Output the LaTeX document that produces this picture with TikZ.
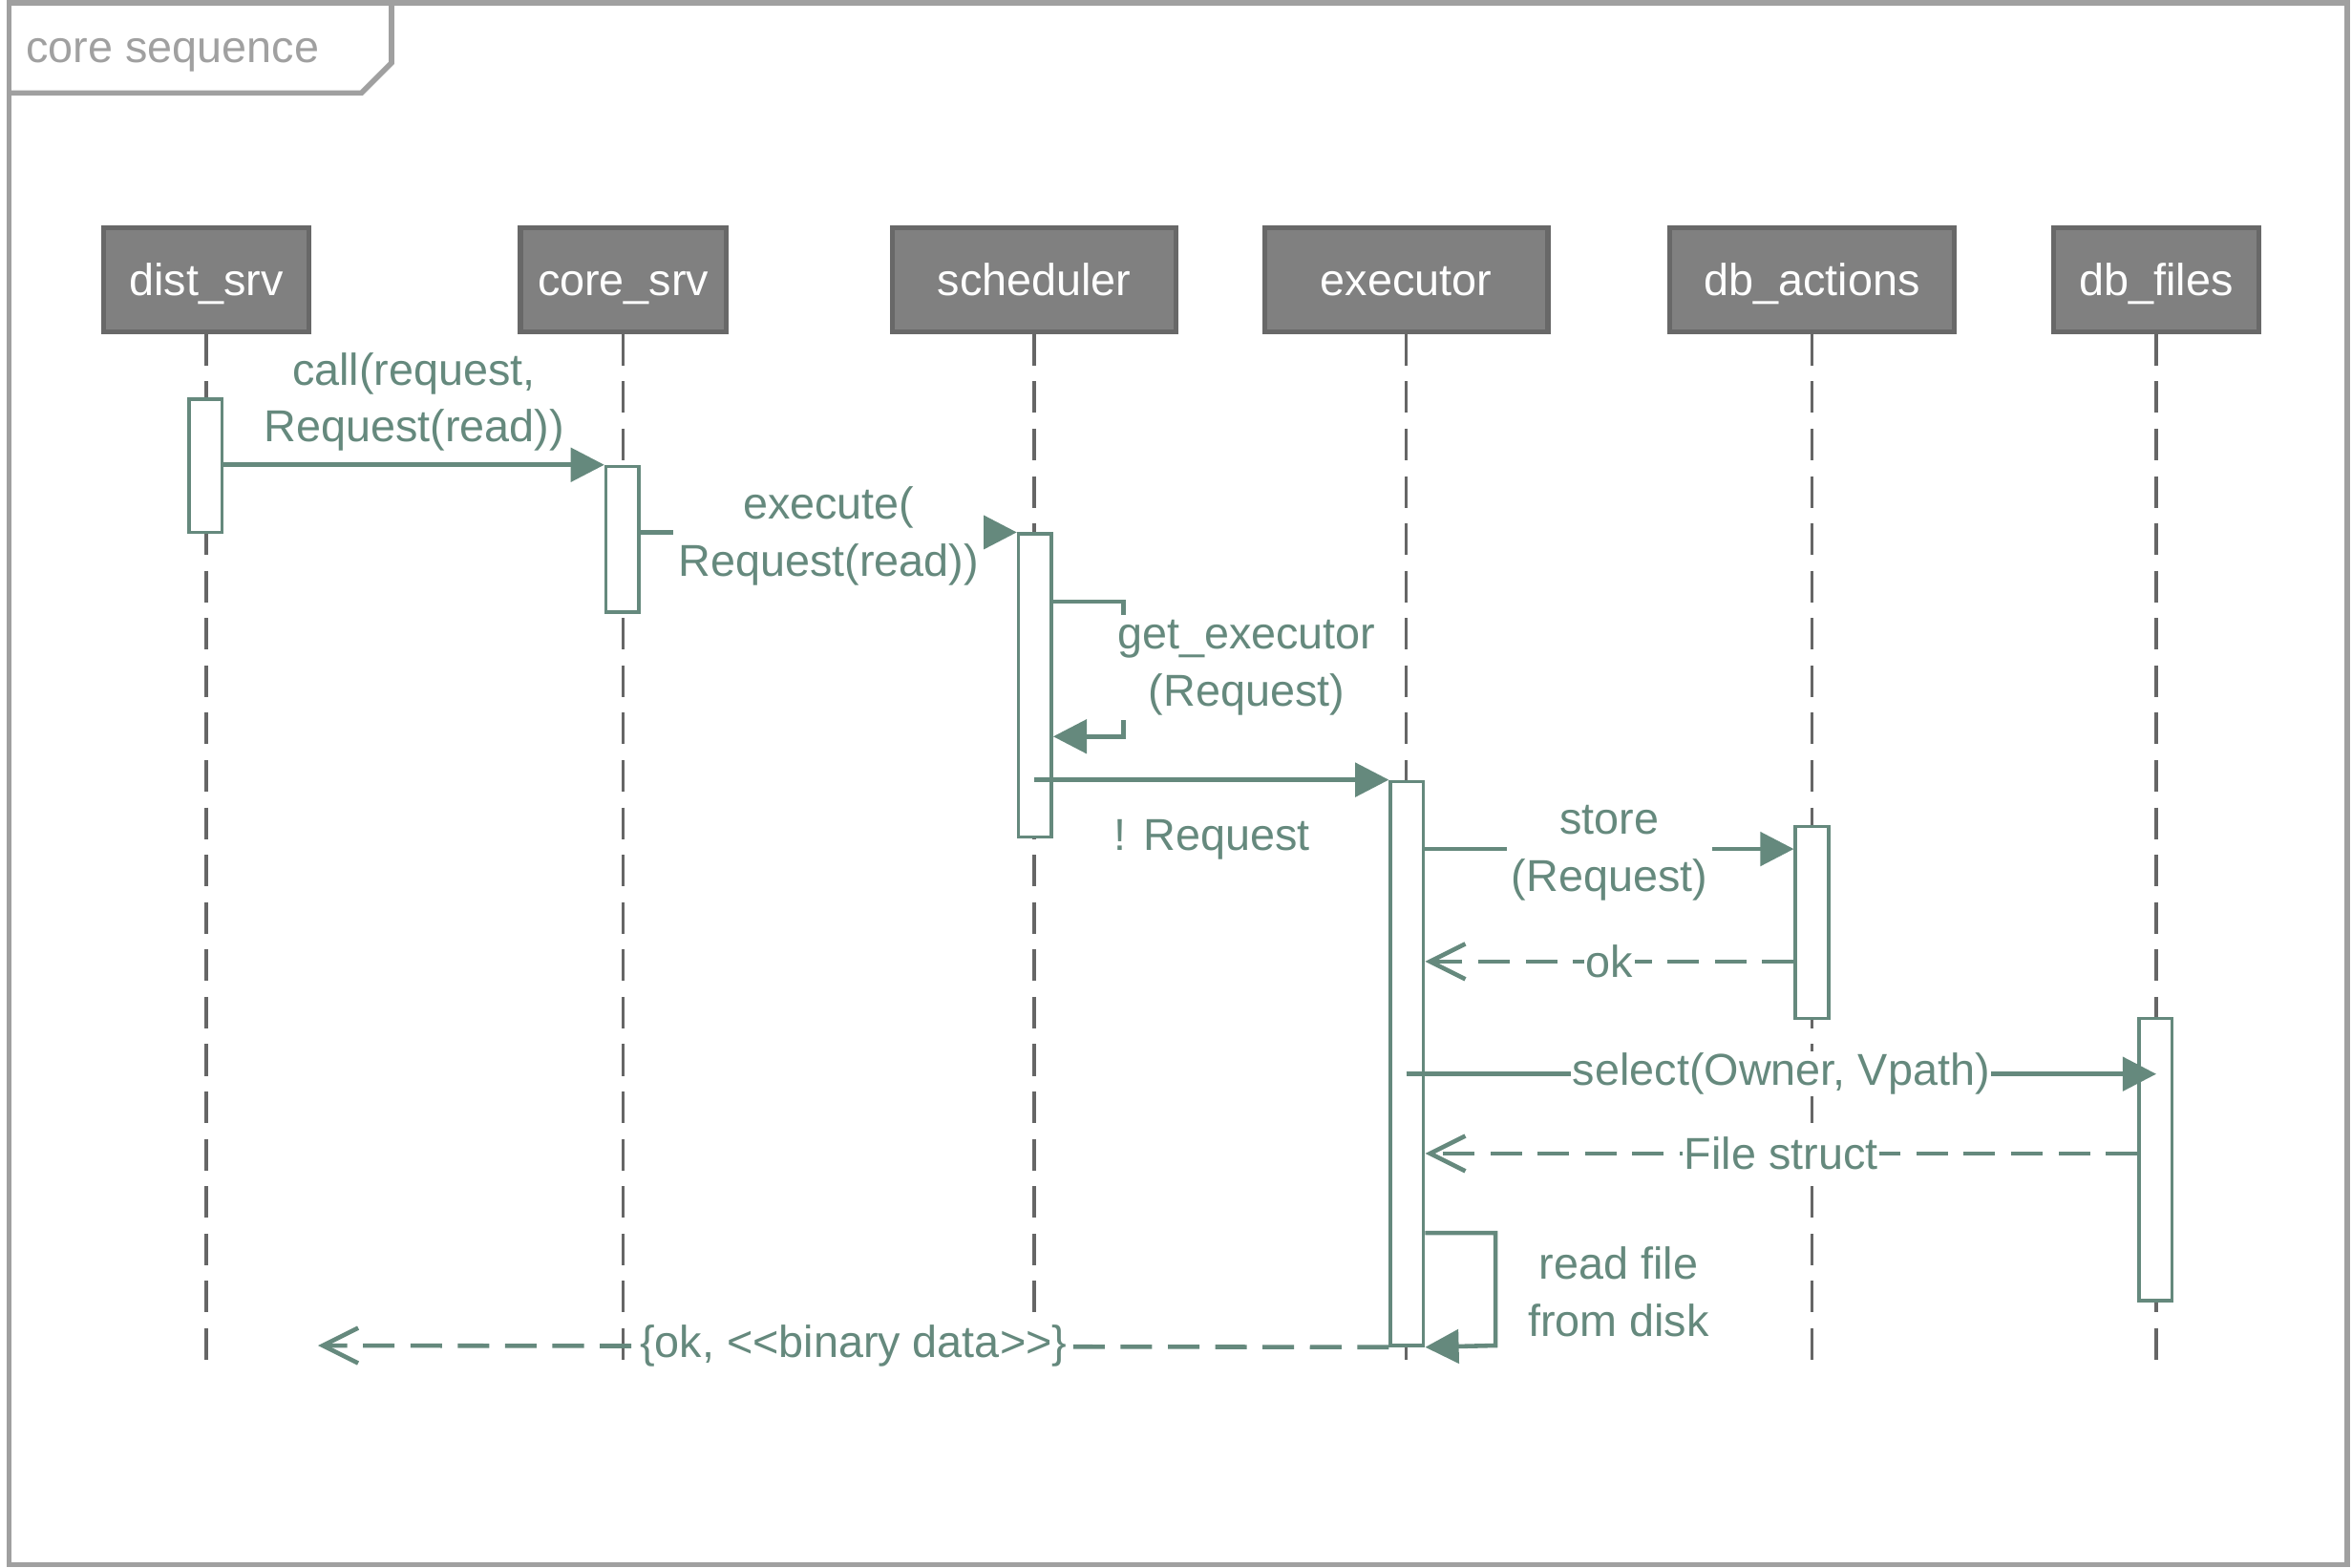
\documentclass[tikz,border=0pt]{standalone}
\usepackage{fontspec}
\setmainfont{Liberation Sans}
\usetikzlibrary{arrows.meta,fit}
\definecolor{teal1}{HTML}{65897D}
\definecolor{fgray}{HTML}{A0A0A0}
\definecolor{pfill}{HTML}{808080}
\definecolor{pdraw}{HTML}{686868}
\definecolor{lgray}{HTML}{666666}
\begin{document}
\begin{tikzpicture}[x=0.015708cm, y=-0.015708cm,
  every node/.style={font=\fontsize{13.3}{17}\selectfont},
  ptc/.style={draw=pdraw, fill=pfill, line width=1.5pt, inner sep=0pt},
  ptctext/.style={text=white, inner sep=0pt, anchor=base},
  lifeline/.style={draw=lgray, line width=1pt, dash pattern=on 9.4pt off 4.7pt},
  act/.style={draw=teal1, fill=white, line width=1pt, inner sep=0pt},
  msg/.style={draw=teal1, line width=1.3pt, -{Triangle[length=10pt, width=10pt]}},
  reply/.style={draw=teal1, line width=1.3pt, dash pattern=on 9.4pt off 4.7pt,
    -{Straight Barb[length=10.5pt, width=10.5pt, line width=1.3pt]}},
  lbl/.style={text=teal1, align=center, fill=white, inner sep=1.5pt},
  framestyle/.style={draw=fgray, line width=1.6pt}]
\useasboundingbox (0,0) rectangle (1568,1045);
% frame
\draw[framestyle] (6,2) rectangle (1565,1043);
\draw[framestyle] (6,62) -- (241,62) -- (261,42) -- (261,2);
\node[text=fgray, anchor=base west, inner sep=0pt] (title) at (17,42) {core sequence};
% participants
\node[ptc, fit={(69,152) (206,221)}] (p1) {};
\node[ptc, fit={(347,152) (484,221)}] (p2) {};
\node[ptc, fit={(595,152) (784,221)}] (p3) {};
\node[ptc, fit={(843,152) (1032,221)}] (p4) {};
\node[ptc, fit={(1113,152) (1303,221)}] (p5) {};
\node[ptc, fit={(1369,152) (1506,221)}] (p6) {};
\node[ptctext] (t1) at ([yshift=-0.17cm]p1.center) {dist\_srv};
\node[ptctext] (t2) at ([yshift=-0.17cm]p2.center) {core\_srv};
\node[ptctext] (t3) at ([yshift=-0.17cm]p3.center) {scheduler};
\node[ptctext] (t4) at ([yshift=-0.17cm]p4.center) {executor};
\node[ptctext] (t5) at ([yshift=-0.17cm]p5.center) {db\_actions};
\node[ptctext] (t6) at ([yshift=-0.17cm]p6.center) {db\_files};
% lifelines
\foreach \p in {p1,p2,p3,p4,p5,p6}
  \draw[lifeline] (\p.south) -- (\p.south |- 0,910);
% activations
\node[act, fit={(126,266) (148,355)}] (a1) {};
\node[act, fit={(404,311) (426,408)}] (a2) {};
\node[act, fit={(679,356) (701,558)}] (a3) {};
\node[act, fit={(927,521) (949,897)}] (a4) {};
\node[act, fit={(1197,551) (1219,679)}] (a5) {};
\node[act, fit={(1426,679) (1448,867)}] (a6) {};
% 1 call
\draw[msg] (a1.east |- a2.north west) -- (a2.north west);
\node[lbl] (m1) at (276,268) {call(request,\\Request(read))};
% 2 execute
\draw[msg] (a2.east |- a3.north west) -- (a3.north west)
  node[lbl, midway, yshift=-0.04cm] (m2) {execute(\\Request(read))};
% 3 get_executor (self)
\coordinate (s3a) at (749,401);
\coordinate (s3b) at (749,491);
\draw[msg] (a3.east |- s3a) -- (s3a) -- (s3b) -- (a3.east |- s3b);
\node[lbl] (m3) at (831,445) {get\_executor\\(Request)};
% 4 ! Request
\draw[msg] (p3 |- a4.north west) -- (a4.north west);
\node[lbl] (m4) at (808,560) {! Request};
% 5 store
\coordinate (y5) at (0,566);
\draw[msg] (a4.east |- y5) -- (a5.west |- y5)
  node[lbl, midway, yshift=-0.04cm] (m5) {store\\(Request)};
% 6 ok
\coordinate (y6) at (0,641);
\draw[reply] (a5.west |- y6) -- (a4.east |- y6)
  node[lbl, midway, inner sep=0.5pt] (m6) {ok};
% 7 select
\coordinate (y7) at (0,716);
\draw[msg] (p4 |- y7) -- (p6 |- y7)
  node[lbl, midway, inner sep=0.5pt] (m7) {select(Owner, Vpath)};
% 8 File struct
\coordinate (y8) at (0,769);
\draw[reply] (a6.west |- y8) -- (a4.east |- y8)
  node[lbl, midway, inner sep=0.5pt] (m8) {File struct};
% 9 read file (self)
\coordinate (s9a) at (997,822);
\coordinate (s9b) at (997,897);
\draw[msg] (a4.east |- s9a) -- (s9a) -- (s9b) -- (a4.south east);
\node[lbl] (m9) at (1079,861) {read file\\from disk};
% 10 return
\coordinate (ret) at (212,897);
\draw[reply] (a4.south west) -- (ret)
  node[lbl, midway, inner sep=0.5pt] (m10) {\{ok, <{}<binary data>{}>\}};
\end{tikzpicture}
\end{document}
